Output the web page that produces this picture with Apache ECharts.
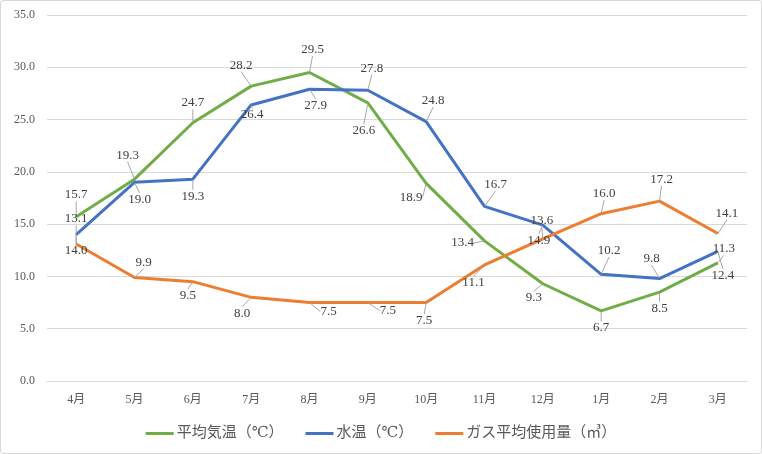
<!DOCTYPE html>
<html>
<head>
<meta charset="utf-8">
<script src="https://cdn.jsdelivr.net/npm/echarts@6/dist/echarts.min.js"></script>
<style>
  html, body { margin: 0; padding: 0; background: #fff; }
  #chart {
    width: 760px;
    height: 452px;
    border: 1px solid #d9d9d9;
    border-radius: 3px;
  }
</style>
</head>
<body>
<div id="chart"></div>
<script>
const months = ['4月', '5月', '6月', '7月', '8月', '9月', '10月', '11月', '12月', '1月', '2月', '3月']
const airTemp = [15.7, 19.3, 24.7, 28.2, 29.5, 26.6, 18.9, 13.4, 9.3, 6.7, 8.5, 11.3]
const waterTemp = [14.0, 19.0, 19.3, 26.4, 27.9, 27.8, 24.8, 16.7, 14.9, 10.2, 9.8, 12.4]
const gasUsage = [13.1, 9.9, 9.5, 8.0, 7.5, 7.5, 7.5, 11.1, 13.6, 16.0, 17.2, 14.1]
const seriesNames = ['平均気温（℃）', '水温（℃）', 'ガス平均使用量（㎥）']

// label offsets (px) from each point, roughly where the labels sit in the original
const airLabelOffsets = [[0, -22], [-7, -24], [0, -20], [-10, -21], [3, -23], [-4, 28], [-15, 14], [-22, 2], [-9, 14], [0, 17], [0, 16], [6, -14]]
const waterLabelOffsets = [[0, 16], [5, 17], [0, 17], [1, 10], [6, 16], [4, -22], [7, -21], [11, -22], [-4, 15], [8, -24], [-8, -20], [5, 24]]
const gasLabelOffsets = [[0, -25], [9, -15], [-5, 14], [-9, 16], [19, 9], [20, 8], [-2, 18], [-11, 18], [-1, -18], [3, -20], [2, -22], [9, -20]]

const serifFont = '"Liberation Serif", "DejaVu Serif", "Noto Sans CJK JP", serif'

function makeSeries(name, values, color, offsets) {
  return {
    name,
    type: 'line',
    data: values,
    symbol: 'circle',
    symbolSize: 1,
    itemStyle: { color },
    lineStyle: { color, width: 3 },
    label: {
      show: true,
      position: 'inside',
      formatter: (p) => p.value.toFixed(1),
      color: '#404040',
      fontSize: 13,
      fontFamily: serifFont,
    },
    labelLayout: (params) => {
      const o = offsets[params.dataIndex]
      return { dx: o[0], dy: o[1] }
    },
    labelLine: { show: true, lineStyle: { color: '#a6a6a6', width: 1 } },
    emphasis: { disabled: true },
  }
}

const chart = echarts.init(document.getElementById('chart'))
chart.setOption({
  animation: false,
  grid: { left: 46, right: 14, top: 14, bottom: 72 },
  xAxis: {
    type: 'category',
    data: months,
    boundaryGap: true,
    axisLine: { lineStyle: { color: '#d9d9d9' } },
    axisTick: { show: false },
    axisLabel: { color: '#595959', fontSize: 12, fontFamily: serifFont, margin: 13 },
  },
  yAxis: {
    type: 'value',
    min: 0,
    max: 35,
    interval: 5,
    axisLine: { show: false },
    axisTick: { show: false },
    splitLine: { lineStyle: { color: '#d9d9d9', width: 1 } },
    axisLabel: {
      color: '#595959',
      fontSize: 12,
      fontFamily: serifFont,
      margin: 12,
      formatter: (v) => v.toFixed(1),
    },
  },
  legend: {
    bottom: 7,
    left: 'center',
    icon: 'rect',
    itemWidth: 28,
    itemHeight: 3,
    itemGap: 22,
    textStyle: { color: '#595959', fontSize: 15, fontFamily: serifFont, padding: [0, 0, 0, -2] },
    data: seriesNames,
  },
  series: [
    makeSeries(seriesNames[0], airTemp, '#70ad47', airLabelOffsets),
    makeSeries(seriesNames[1], waterTemp, '#4472c4', waterLabelOffsets),
    makeSeries(seriesNames[2], gasUsage, '#ed7d31', gasLabelOffsets),
  ],
})
</script>
</body>
</html>
